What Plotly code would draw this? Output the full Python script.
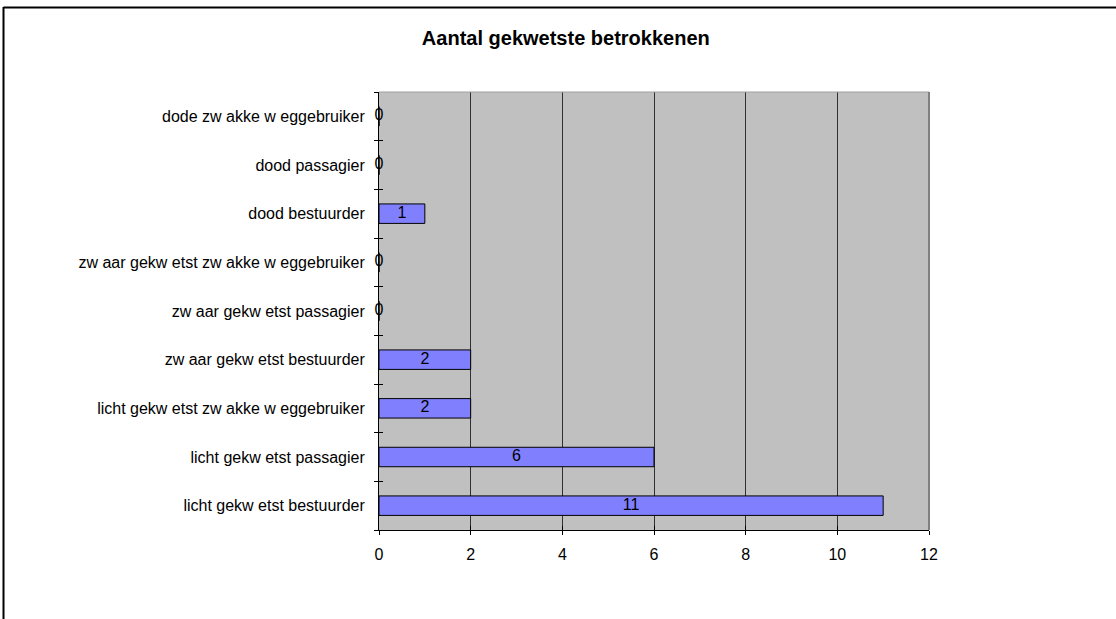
import plotly.graph_objects as go

categories = [
    "licht gekw etst bestuurder",
    "licht gekw etst passagier",
    "licht gekw etst zw akke w eggebruiker",
    "zw aar gekw etst bestuurder",
    "zw aar gekw etst passagier",
    "zw aar gekw etst zw akke w eggebruiker",
    "dood bestuurder",
    "dood passagier",
    "dode zw akke w eggebruiker",
]
values = [11, 6, 2, 2, 0, 0, 1, 0, 0]
x_ticks = [0, 2, 4, 6, 8, 10, 12]
title_text = "Aantal gekwetste betrokkenen"

W, H = 1116, 619
ML, MR, MT, MB = 379, 187, 92, 89
PW, PH = W - ML - MR, H - MT - MB

FONT = "Liberation Sans, Arial, sans-serif"
YR = [-0.5, len(categories) - 0.5]

fig = go.Figure()
fig.add_trace(go.Bar(
    x=values, y=categories, orientation="h",
    marker=dict(color="#8080FF", line=dict(color="black", width=1)),
    width=0.4, hoverinfo="x+y",
))
fig.add_trace(go.Scatter(
    x=[v / 2 for v in values], y=categories, mode="text",
    text=[str(v) for v in values], textposition="middle center",
    textfont=dict(family=FONT, size=16, color="black"),
    hoverinfo="skip", cliponaxis=False,
))
# invisible trace on overlay axes (inner half of the crossing tick marks)
fig.add_trace(go.Scatter(
    x=values, y=categories, mode="markers", marker=dict(opacity=0),
    xaxis="x2", yaxis="y2", hoverinfo="skip",
))

def px_x(p):
    return (p - ML) / PW

def px_y(p):
    return (H - MB - p) / PH

shapes = [
    dict(type="line", xref="paper", yref="paper", x0=0, x1=1, y0=1, y1=1,
         line=dict(color="#A0A0A0", width=1)),
    dict(type="line", xref="paper", yref="paper", x0=1, x1=1, y0=0, y1=1,
         line=dict(color="#808080", width=2)),
    dict(type="line", xref="paper", yref="paper", x0=px_x(3.5), x1=px_x(3.5),
         y0=px_y(7), y1=px_y(H + 5), line=dict(color="black", width=2)),
    dict(type="line", xref="paper", yref="paper", x0=px_x(3.5), x1=px_x(W + 5),
         y0=px_y(7.5), y1=px_y(7.5), line=dict(color="black", width=2)),
]

fig.update_layout(
    width=W, height=H,
    margin=dict(l=ML, r=MR, t=MT, b=MB, pad=0),
    paper_bgcolor="white", plot_bgcolor="#C0C0C0",
    showlegend=False,
    bargap=0.6,
    font=dict(family=FONT, size=16, color="black"),
    title=dict(text="<b>" + title_text + "</b>", x=0.507, xref="container",
               xanchor="center", y=1 - 38 / H, yref="container", yanchor="middle",
               font=dict(family=FONT, size=20, color="black")),
    xaxis=dict(range=[0, 12], tickvals=x_ticks, ticktext=[str(t) for t in x_ticks],
               showgrid=True, gridcolor="#303030", gridwidth=1,
               showline=True, linecolor="black", linewidth=1,
               ticks="outside", ticklen=4, tickcolor="black",
               ticklabelstandoff=6,
               zeroline=False, fixedrange=True,
               tickfont=dict(family=FONT, size=16)),
    yaxis=dict(categoryorder="array", categoryarray=categories, range=YR,
               showgrid=False, showline=True, linecolor="black", linewidth=1,
               ticks="outside", ticklen=4, tickcolor="black", tickson="boundaries",
               ticklabelstandoff=10, fixedrange=True,
               tickfont=dict(family=FONT, size=16)),
    xaxis2=dict(overlaying="x", anchor="y2", side="bottom", range=[0, 12],
                tickvals=x_ticks, showticklabels=False, showgrid=False,
                showline=False, zeroline=False, ticks="inside", ticklen=4,
                tickcolor="black", fixedrange=True),
    yaxis2=dict(overlaying="y", anchor="x2", side="left", categoryorder="array",
                categoryarray=categories, range=YR, showticklabels=False,
                showgrid=False, showline=False, zeroline=False, ticks="inside",
                ticklen=4, tickcolor="black", tickson="boundaries", fixedrange=True),
    shapes=shapes,
)

fig.write_html("out.html", config={"displayModeBar": False},
               post_script="document.body.style.margin='0px';")
